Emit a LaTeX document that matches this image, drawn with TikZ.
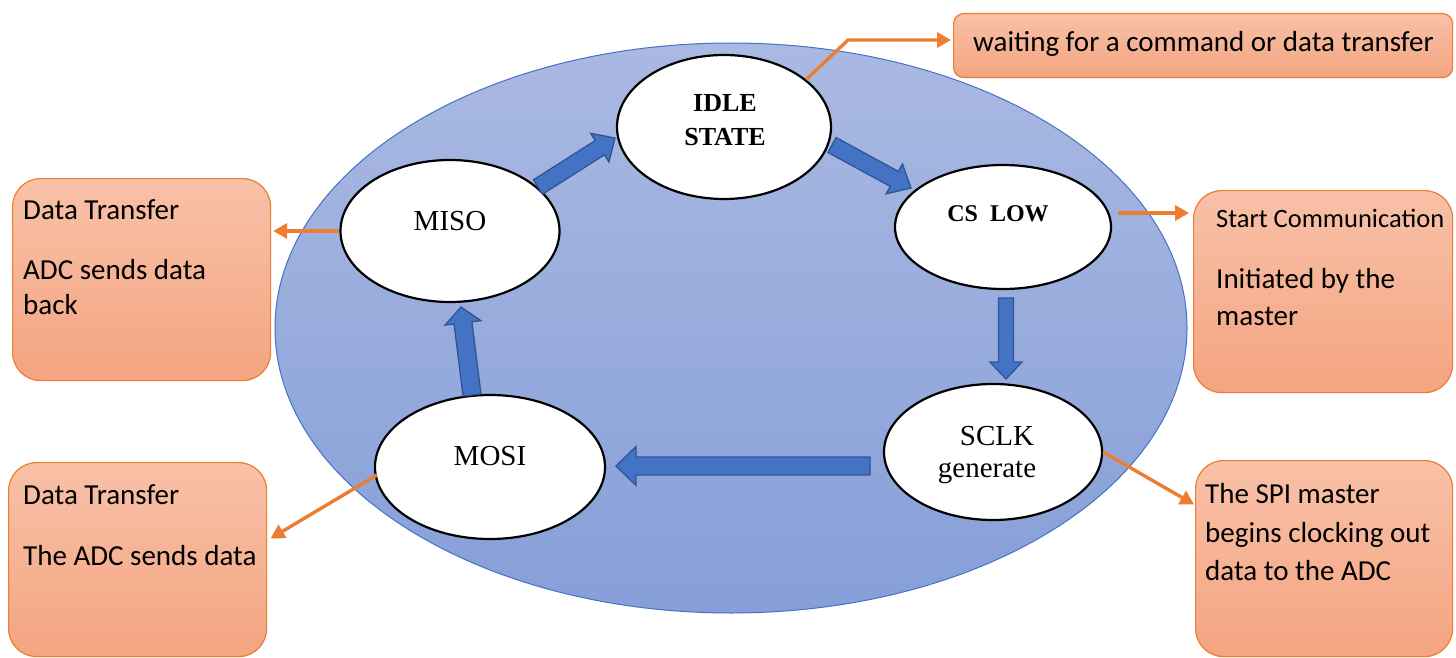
\documentclass[tikz,border=0pt]{standalone}
\usepackage{fontspec}
\setmainfont{Liberation Serif}
\newfontfamily\notefont{Carlito}
\usetikzlibrary{calc,arrows.meta,shapes.geometric}

\definecolor{ringtop}{RGB}{170,185,226}
\definecolor{ringbot}{RGB}{134,159,216}
\definecolor{ringedge}{RGB}{68,114,196}
\definecolor{barfill}{RGB}{68,114,196}
\definecolor{bardraw}{RGB}{47,85,151}
\definecolor{orng}{RGB}{237,125,49}
\definecolor{notetop}{RGB}{248,193,168}
\definecolor{notebot}{RGB}{244,164,128}

\tikzset{
  state/.style={ellipse, draw=black, line width=2.2pt, fill=white, inner sep=0pt},
  note/.style={draw=orng, line width=1.2pt, top color=notetop, bottom color=notebot,
               rounded corners=28pt, anchor=north west, inner sep=0pt},
  ntext/.style={anchor=base west, inner sep=0pt, font=\notefont\fontsize{29}{35}\selectfont},
  stext/.style={anchor=base, inner sep=0pt, font=\fontsize{29}{35}\selectfont},
  btext/.style={anchor=base, inner sep=0pt, font=\fontsize{26}{30}\selectfont\bfseries},
  oarrow/.style={draw=orng, line width=3.4pt, -{Triangle[length=14pt,width=15pt]}},
  barrow/.style={fill=barfill, draw=bardraw, line width=1.3pt, line join=miter},
}

% block arrow: start, end, shaft half width, head half width, head length
\newcommand\flowarrow[5]{%
  \path ($(#2)!#5!(#1)$) coordinate (fa-h);
  \draw[barrow] ($(#1)!#3!90:(#2)$) -- ($(fa-h)!#3!90:(#2)$) -- ($(fa-h)!#4!90:(#2)$)
    -- (#2) -- ($(fa-h)!#4!-90:(#2)$) -- ($(fa-h)!#3!-90:(#2)$) -- ($(#1)!#3!-90:(#2)$) -- cycle;}

\begin{document}
\begin{tikzpicture}[x=1pt,y=-1pt]
\useasboundingbox (0,0) rectangle (1456,658);

% background ring
\node[ellipse, draw=ringedge, line width=1pt, top color=ringtop, bottom color=ringbot,
      minimum width=912pt, minimum height=570pt, inner sep=0pt] (ring) at (731,328) {};

% states
\node[state, minimum width=214pt, minimum height=144pt] (idle) at (724,127) {};
\node[state, minimum width=216pt, minimum height=124pt] (cs)   at (1003,227) {};
\node[state, minimum width=218pt, minimum height=136pt] (sclk) at (993,452) {};
\node[state, minimum width=230pt, minimum height=144pt] (mosi) at (490,467) {};
\node[state, minimum width=219pt, minimum height=142pt] (miso) at (450,231) {};

\node[btext] (idle-t1) at (725,112) {IDLE};
\node[btext] (idle-t2) at (725,146) {STATE};
\node[btext, font=\fontsize{24}{30}\selectfont\bfseries] (cs-t) at (998,221) {CS\ \ LOW};
\node[stext] (sclk-t1) at (997,445) {SCLK};
\node[stext] (sclk-t2) at (987,477) {generate};
\node[stext] (mosi-t) at (490,465) {MOSI};
\node[stext] (miso-t) at (450,230) {MISO};

% block arrows between states
\coordinate (a1s) at (832,145);  \coordinate (a1e) at (911,188);
\coordinate (a2s) at (1006,298); \coordinate (a2e) at (1006,379);
\coordinate (a3s) at (870,466);  \coordinate (a3e) at (616,466);
\coordinate (a4s) at (472,395);  \coordinate (a4e) at (461,307);
\coordinate (a5s) at (538,187);  \coordinate (a5e) at (615,138);
\flowarrow{a1s}{a1e}{8.5pt}{17pt}{19pt}
\flowarrow{a2s}{a2e}{7.5pt}{16pt}{17pt}
\flowarrow{a3s}{a3e}{9pt}{19.5pt}{20pt}
\flowarrow{a4s}{a4e}{9pt}{18pt}{16pt}
\flowarrow{a5s}{a5e}{8.5pt}{17pt}{18pt}

% notes
\node[note, rounded corners=10pt, minimum width=499pt, minimum height=64pt] (wait) at (953,13) {};
\node[note, minimum width=258pt, minimum height=202pt] (nmiso) at (12,178) {};
\node[note, minimum width=259pt, minimum height=202pt] (ncs) at (1193,190) {};
\node[note, minimum width=258pt, minimum height=194pt] (nmosi) at (8,462) {};
\node[note, minimum width=257pt, minimum height=196pt] (nsclk) at (1195,460) {};

\node[ntext] (wait-t) at (973,52) {waiting for a command or data transfer};
\node[ntext] (nmiso-t1) at (23,219) {Data Transfer};
\node[ntext] (nmiso-t2) at (23,279) {ADC sends data};
\node[ntext] (nmiso-t3) at (23,314) {back};
\node[ntext, font=\notefont\fontsize{26.5}{32}\selectfont] (ncs-t1) at (1216,227) {Start Communication};
\node[ntext] (ncs-t2) at (1216,288) {Initiated by the};
\node[ntext] (ncs-t3) at (1216,325) {master};
\node[ntext] (nmosi-t1) at (23,504) {Data Transfer};
\node[ntext] (nmosi-t2) at (23,565) {The ADC sends data};
\node[ntext] (nsclk-t1) at (1205,503) {The SPI master};
\node[ntext] (nsclk-t2) at (1205,542) {begins clocking out};
\node[ntext] (nsclk-t3) at (1205,580) {data to the ADC};

% callout connectors
\coordinate (bend) at (848,40);
\draw[oarrow, shorten >=2pt] (idle.30) -- (bend) -- (bend -| wait.west);
\coordinate (csout) at (1118,213);
\draw[oarrow, shorten >=4pt] (csout) -- (csout -| ncs.west);
\coordinate (sclkin) at (1195,505);
\draw[oarrow, shorten >=1pt] (sclk.east) -- (sclkin);
\draw[oarrow, shorten >=2pt] (miso.west) -- (nmiso.east |- miso.west);
\coordinate (mosiin) at (268,540);
\draw[oarrow, shorten >=3pt] (mosi.west) ++(3,8) -- (mosiin);
\end{tikzpicture}
\end{document}
